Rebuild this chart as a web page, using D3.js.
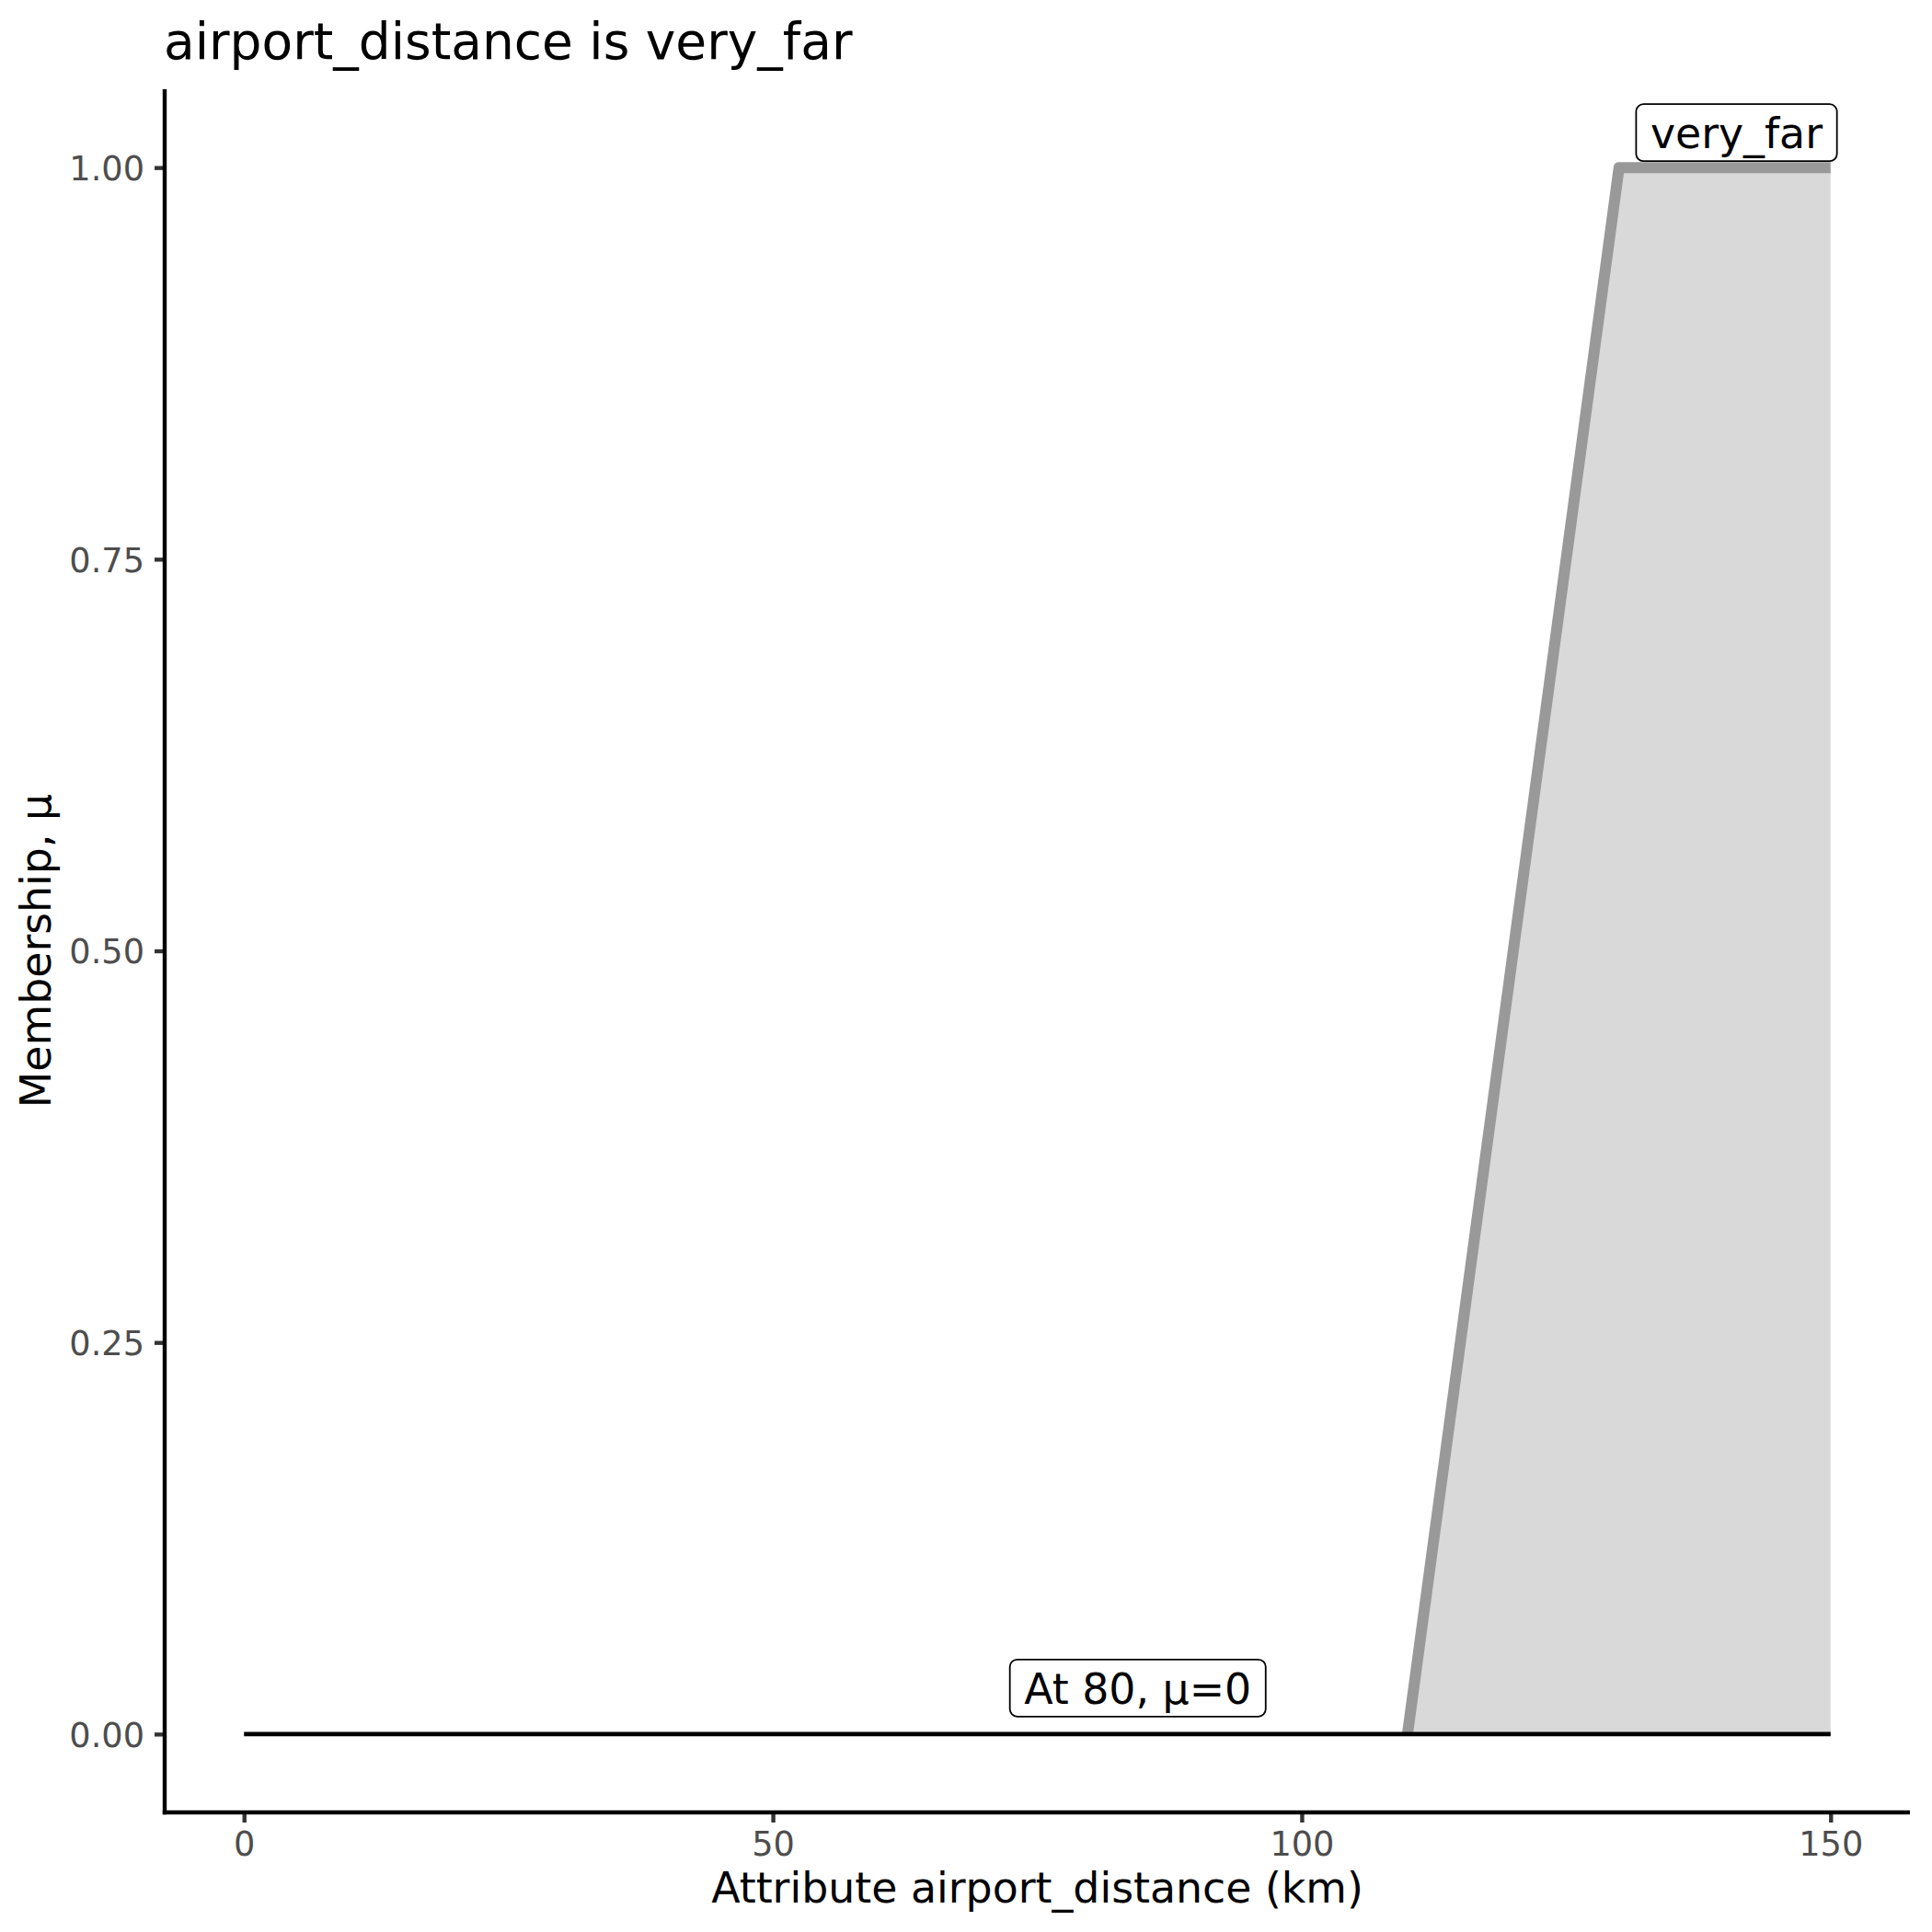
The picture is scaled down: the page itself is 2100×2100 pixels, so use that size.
<!DOCTYPE html>
<html>
<head>
<meta charset="utf-8">
<script src="https://cdn.jsdelivr.net/npm/d3@7"></script>
<style>
  html, body { margin: 0; padding: 0; background: #ffffff; }
  svg { display: block; font-family: "DejaVu Sans", sans-serif; }
</style>
</head>
<body>
<svg id="chart" width="2100" height="2100"></svg>
<script>
// ---- data ----
const chartTitle = "airport_distance is very_far";
const xAxisTitle = "Attribute airport_distance (km)";
const yAxisTitle = "Membership, \u03bc";
const xDomain = [0, 150];
const yDomain = [0, 1];
const xTicks = [0, 50, 100, 150];
const yTicks = [0, 0.25, 0.5, 0.75, 1.0];
const yTickLabels = ["0.00", "0.25", "0.50", "0.75", "1.00"];
// membership function "very_far"
const mfX = [110, 130, 150];
const mfMu = [0, 1, 1];
// evaluation baseline (mu at each x)
const baseX = [0, 150];
const baseMu = [0, 0];
// labels
const labelText = ["very_far", "At 80, \u03bc=0"];
const labelX = [141.1, 84.5];
const labelY = [1.0123, 0.0194];

// ---- layout ----
const W = 2100, H = 2100;
const panel = { left: 179, right: 2076, top: 97, bottom: 1970 };
const svg = d3.select("#chart");
svg.append("rect").attr("width", W).attr("height", H).attr("fill", "#ffffff");

const xPad = (xDomain[1] - xDomain[0]) * 0.05;
const yPad = (yDomain[1] - yDomain[0]) * 0.05;
const x = d3.scaleLinear().domain([xDomain[0] - xPad, xDomain[1] + xPad]).range([panel.left, panel.right]);
const y = d3.scaleLinear().domain([yDomain[0] - yPad, yDomain[1] + yPad]).range([panel.bottom, panel.top]);

const mfData = mfX.map((v, i) => ({ x: v, mu: mfMu[i] }));
const baseData = baseX.map((v, i) => ({ x: v, mu: baseMu[i] }));

// fill
svg.append("path")
  .datum(mfData)
  .attr("d", d3.area().x(d => x(d.x)).y0(y(0)).y1(d => y(d.mu)))
  .attr("fill", "#d9d9d9");

// membership line
svg.append("path")
  .datum(mfData)
  .attr("d", d3.line().x(d => x(d.x)).y(d => y(d.mu)))
  .attr("fill", "none")
  .attr("stroke", "#999999")
  .attr("stroke-width", 12)
  .attr("stroke-linejoin", "round")
  .attr("stroke-linecap", "butt");

// baseline
svg.append("path")
  .datum(baseData)
  .attr("d", d3.line().x(d => x(d.x)).y(d => y(d.mu)))
  .attr("fill", "none")
  .attr("stroke", "#000000")
  .attr("stroke-width", 4.6);

// axes
const xAxis = d3.axisBottom(x).tickValues(xTicks).tickSize(11).tickFormat(d3.format("d"));
const gx = svg.append("g").attr("transform", `translate(0,${panel.bottom})`).call(xAxis);
gx.select(".domain").remove();
gx.selectAll(".tick line").attr("stroke", "#333333").attr("stroke-width", 4.4);
gx.selectAll(".tick text")
  .attr("y", 47).attr("dy", null)
  .attr("fill", "#4d4d4d")
  .style("font-family", "DejaVu Sans")
  .style("font-size", "36.7px");

const yAxis = d3.axisLeft(y).tickValues(yTicks).tickSize(11).tickFormat((d, i) => yTickLabels[i]);
const gy = svg.append("g").attr("transform", `translate(${panel.left},0)`).call(yAxis);
gy.select(".domain").remove();
gy.selectAll(".tick line").attr("stroke", "#333333").attr("stroke-width", 4.4);
gy.selectAll(".tick text")
  .attr("x", -22).attr("dy", "0.36em")
  .attr("fill", "#4d4d4d")
  .style("font-family", "DejaVu Sans")
  .style("font-size", "36.7px");

// axis lines
svg.append("line")
  .attr("x1", panel.left).attr("x2", panel.left)
  .attr("y1", panel.top).attr("y2", panel.bottom + 2.2)
  .attr("stroke", "#000000").attr("stroke-width", 4.4);
svg.append("line")
  .attr("x1", panel.left - 2.2).attr("x2", panel.right)
  .attr("y1", panel.bottom).attr("y2", panel.bottom)
  .attr("stroke", "#000000").attr("stroke-width", 4.4);

// labels
labelText.forEach((t, i) => {
  const g = svg.append("g");
  const cx = x(labelX[i]);
  const base = y(labelY[i]);
  const txt = g.append("text")
    .attr("x", cx).attr("y", base)
    .attr("text-anchor", "middle")
    .attr("fill", "#000000")
    .style("font-size", "45.8px")
    .text(t);
  const bb = txt.node().getBBox();
  const padX = 15.5;
  g.insert("rect", "text")
    .attr("x", bb.x - padX)
    .attr("y", base - 48)
    .attr("width", bb.width + 2 * padX)
    .attr("height", 62)
    .attr("rx", 8).attr("ry", 8)
    .attr("fill", "#ffffff")
    .attr("stroke", "#000000")
    .attr("stroke-width", 1.8);
});

// titles
svg.append("text")
  .attr("x", panel.left - 1).attr("y", 64)
  .attr("fill", "#000000")
  .style("font-size", "55px")
  .text(chartTitle);

svg.append("text")
  .attr("x", (panel.left + panel.right) / 2).attr("y", 2068)
  .attr("text-anchor", "middle")
  .attr("fill", "#000000")
  .style("font-size", "45.8px")
  .text(xAxisTitle);

svg.append("text")
  .attr("transform", `translate(55,${(panel.top + panel.bottom) / 2}) rotate(-90)`)
  .attr("text-anchor", "middle")
  .attr("fill", "#000000")
  .style("font-size", "45.8px")
  .text(yAxisTitle);
</script>
</body>
</html>
